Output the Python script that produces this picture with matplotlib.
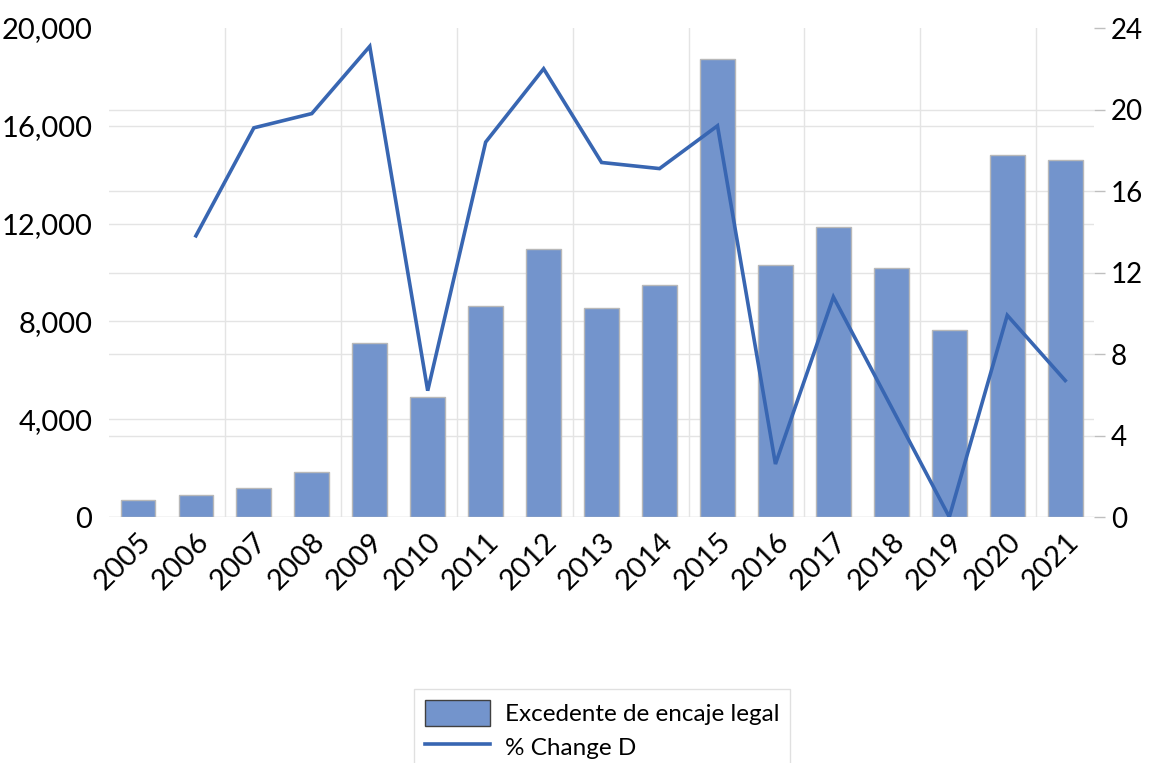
import matplotlib

matplotlib.use("Agg")
import matplotlib.pyplot as plt  # noqa: E402
import numpy as np  # noqa: E402
from matplotlib.transforms import blended_transform_factory  # noqa: E402

years = [str(y) for y in range(2005, 2022)]
excedente = [700, 900, 1200, 1850, 7100, 4900, 8650, 10950, 8550, 9500,
             18750, 10300, 11850, 10200, 7650, 14800, 14600]
pct_change = [np.nan, 13.8, 19.1, 19.8, 23.1, 6.2, 18.4, 22.0, 17.4, 17.1,
              19.2, 2.6, 10.8, 5.4, 0.0, 9.9, 6.7]

left_ticks = [0, 4000, 8000, 12000, 16000, 20000]
right_ticks = [0, 4, 8, 12, 16, 20, 24]

BAR = "#7394cc"
LINE = "#3866b2"
GRID = "#e4e4e4"

plt.rcParams.update({
    "font.family": ["Lato", "DejaVu Sans"],
    "font.size": 21,
})

fig = plt.figure(figsize=(11.53, 7.63), dpi=100)
ax = fig.add_axes([0.0945, 0.3224, 0.8545, 0.6409])
ax2 = ax.twinx()

x = np.arange(len(years))
ax.bar(x, excedente, width=0.6, color=BAR, edgecolor="#b8b8b8",
       linewidth=1.0, zorder=3, label="Excedente de encaje legal")
ax2.plot(x, pct_change, color=LINE, linewidth=2.6, label="% Change D",
         solid_joinstyle="miter")

ax.set_xlim(-0.5, len(years) - 0.5)
ax.set_ylim(0, 20000)
ax2.set_ylim(0, 24)

# gridlines for both axes, kept behind the bars
for v in left_ticks[:-1]:
    ax.axhline(v, color=GRID, linewidth=1.0, zorder=1)
tr = blended_transform_factory(ax.transAxes, ax2.transData)
for v in right_ticks[:-1]:
    ax.plot([0, 1], [v, v], transform=tr, color=GRID, linewidth=1.0, zorder=1)
for xv in np.arange(1.5, len(years) - 1, 2):
    ax.axvline(xv, color=GRID, linewidth=1.0, zorder=1)

ax.set_xticks(x)
ax.set_xticklabels(years, rotation=45, ha="right", rotation_mode="anchor")
ax.set_yticks(left_ticks)
ax.set_yticklabels([f"{v:,}" for v in left_ticks])
ax2.set_yticks(right_ticks)

ax.tick_params(axis="x", length=0, pad=8)
ax.tick_params(axis="y", length=0, pad=12)
ax2.tick_params(axis="y", length=8, width=1, color="#bfbfbf", pad=4,
                labelsize=20)

for a in (ax, ax2):
    for s in a.spines.values():
        s.set_visible(False)

h1, l1 = ax.get_legend_handles_labels()
h2, l2 = ax2.get_legend_handles_labels()
leg = fig.legend(h1 + h2, l1 + l2, loc="upper center",
                 bbox_to_anchor=(0.522, 0.113), fontsize=17.5,
                 frameon=True, fancybox=False, edgecolor="#d9d9d9",
                 handlelength=2.7, handleheight=1.3, borderpad=0.45,
                 labelspacing=0.3, handletextpad=0.6)
leg.get_frame().set_linewidth(1.0)
leg.legend_handles[0].set_edgecolor("#404040")

fig.savefig("out.png", dpi=100)
